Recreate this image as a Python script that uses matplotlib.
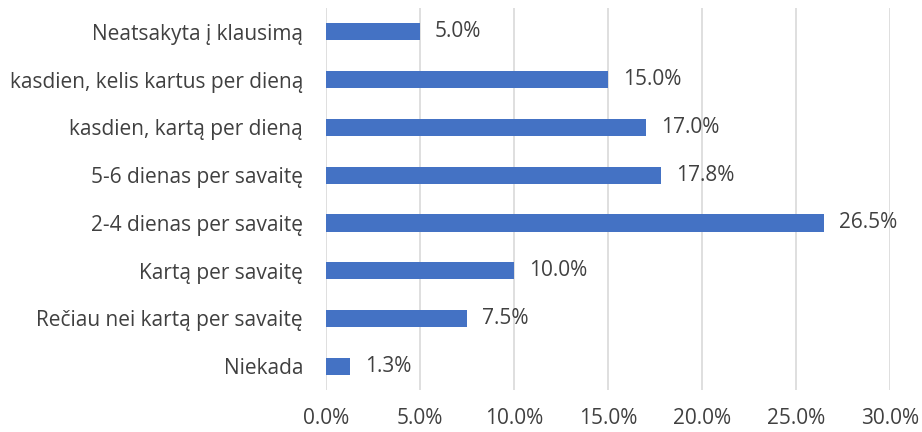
import matplotlib.pyplot as plt
from matplotlib.ticker import PercentFormatter

plt.rcParams['font.family'] = ['Open Sans', 'DejaVu Sans']

kategorijos = [
    'Niekada',
    'Rečiau nei kartą per savaitę',
    'Kartą per savaitę',
    '2-4 dienas per savaitę',
    '5-6 dienas per savaitę',
    'kasdien, kartą per dieną',
    'kasdien, kelis kartus per dieną',
    'Neatsakyta į klausimą',
]
procentai = [1.3, 7.5, 10.0, 26.5, 17.8, 17.0, 15.0, 5.0]

TEKSTAS = '#404040'
SPALVA = '#4472C4'
DYDIS = 15

fig = plt.figure(figsize=(9.22, 4.32), dpi=100)
ax = fig.add_axes([0.3536, 0.097, 0.6117, 0.8845])

y = range(len(kategorijos))
ax.barh(y, procentai, height=0.36, color=SPALVA, zorder=3)
for i, v in enumerate(procentai):
    ax.text(v + 0.8, i, f'{v:.1f}%', va='center', ha='left',
            fontsize=DYDIS, color=TEKSTAS)

ax.set_yticks(list(y))
ax.set_yticklabels(kategorijos, fontsize=DYDIS, color=TEKSTAS)
ax.set_ylim(-0.5, len(kategorijos) - 0.5)

ax.set_xlim(0, 30)
ax.set_xticks(range(0, 31, 5))
ax.xaxis.set_major_formatter(PercentFormatter(decimals=1))
ax.tick_params(axis='x', labelsize=DYDIS, labelcolor=TEKSTAS, length=0, pad=13)
ax.tick_params(axis='y', length=0, pad=16.5)
ax.grid(axis='x', color='#D9D9D9', linewidth=1.2, zorder=0)
for s in ax.spines.values():
    s.set_visible(False)

fig.savefig('out.png', dpi=100)
